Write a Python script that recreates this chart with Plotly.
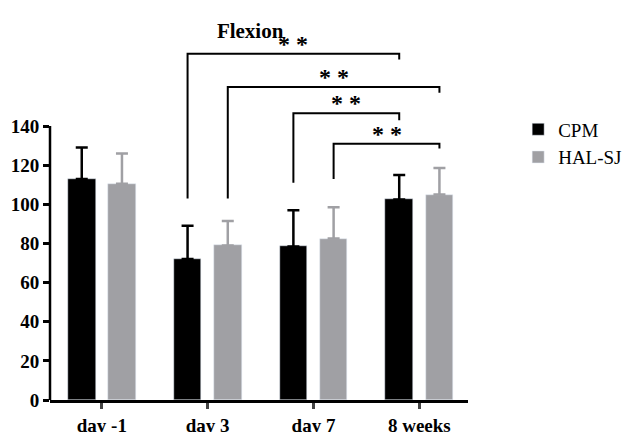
import plotly.graph_objects as go

categories = ["day -1", "day 3", "day 7", "8 weeks"]
cpm = [113, 72, 78.5, 102.5]
cpm_err = [16, 17, 18.5, 12.5]
hal = [110.5, 79, 82.5, 105]
hal_err = [15.5, 12.5, 16, 13.5]
# brackets: (x from, x to, left foot, top, right foot)
brackets = [(1 - 0.19, 3 - 0.19, 103, 177, 174),
            (1 + 0.19, 3 + 0.19, 103, 160, 157),
            (2 - 0.19, 3 - 0.19, 111, 146.5, 143),
            (2 + 0.19, 3 + 0.19, 113, 131, 128.5)]

off = 0.19
xs = list(range(len(categories)))
font = dict(family="Liberation Serif", size=19, color="black")

fig = go.Figure()
fig.add_bar(x=[i - off for i in xs], y=cpm, width=0.26, name="CPM", marker_color="black",
            error_y=dict(type="data", array=cpm_err, arrayminus=[0]*4, color="black",
                         thickness=2.5, width=6))
fig.add_bar(x=[i + off for i in xs], y=hal, width=0.26, name="HAL-SJ", marker_color="#a0a0a4",
            error_y=dict(type="data", array=hal_err, arrayminus=[0]*4, color="#a0a0a4",
                         thickness=2.5, width=6))

for x0, x1, f0, top, f1 in brackets:
    fig.add_trace(go.Scatter(x=[x0, x0, x1, x1], y=[f0, top, top, f1], mode="lines",
                             line=dict(color="black", width=2), showlegend=False, hoverinfo="skip"))
    fig.add_annotation(x=(x0 + x1) / 2, y=top, text="<b>* *</b>", showarrow=False,
                       yanchor="bottom", yshift=-5, font=dict(family="Liberation Serif", size=24))

# y axis line only up to 140
fig.add_shape(type="line", xref="paper", x0=0, x1=0, y0=0, y1=140, yref="y",
              line=dict(color="black", width=2.5))

fig.update_layout(
    width=644, height=432, plot_bgcolor="white", paper_bgcolor="white",
    margin=dict(l=42, r=184, t=30, b=40, autoexpand=False),
    title=dict(text="<b>Flexion</b>", x=0.376, xanchor="center", y=0.965, font=dict(family="Liberation Serif", size=21)),
    font=font, showlegend=True,
    legend=dict(x=1.12, y=0.8, font=dict(family="Liberation Serif", size=19), itemwidth=30),
    bargap=0,
)
fig.update_xaxes(range=[-0.49, 3.46], tickvals=xs, ticktext=["<b>%s</b>" % c for c in categories],
                 showline=True, linecolor="black", linewidth=2.5, ticks="outside", ticklen=6,
                 tickwidth=2.5, showgrid=False, zeroline=False, automargin=False)
fig.update_yaxes(range=[0, 185], tickvals=list(range(0, 141, 20)),
                 ticktext=["<b>%d</b>" % v for v in range(0, 141, 20)],
                 ticks="outside", ticklen=6, tickwidth=2.5, tickcolor="black",
                 showline=False, showgrid=False, zeroline=False, automargin=False)
fig.write_html("out.html")
